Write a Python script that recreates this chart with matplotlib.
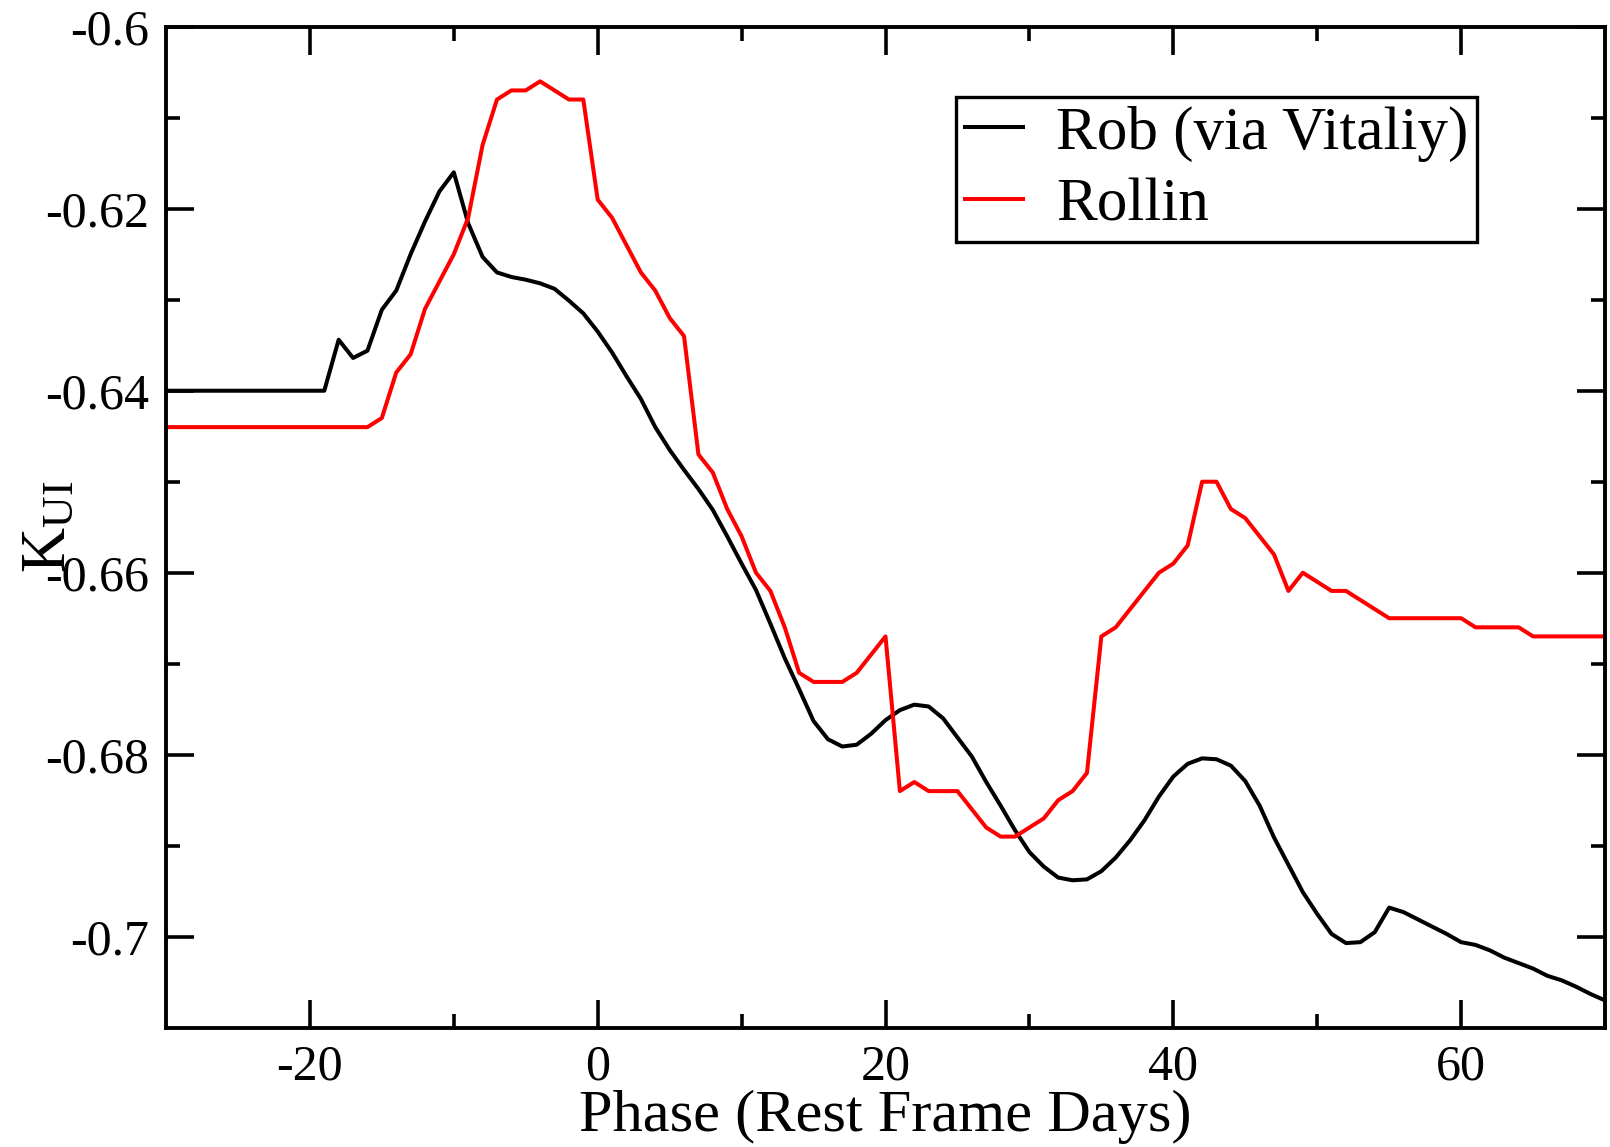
import matplotlib

matplotlib.use("Agg")
import matplotlib.pyplot as plt

# Rob (via Vitaliy)
rob_phase = [-30, -19, -18, -17, -16, -15, -14, -13, -12, -11, -10, -9, -8, -7, -6, -5,
             -4, -3, -2, -1, 0, 1, 2, 3, 4, 5, 6, 7, 8, 9, 10, 11, 12, 13, 14, 15, 16,
             17, 18, 19, 20, 21, 22, 23, 24, 25, 26, 27, 28, 29, 30, 31, 32, 33, 34,
             35, 36, 37, 38, 39, 40, 41, 42, 43, 44, 45, 46, 47, 48, 49, 50, 51, 52,
             53, 54, 55, 56, 57, 58, 59, 60, 61, 62, 63, 64, 65, 66, 67, 68, 69, 70]
rob_k = [-0.6400, -0.6400, -0.6344, -0.6364, -0.6356, -0.6311, -0.6290, -0.6250, -0.6214,
         -0.6181, -0.6160, -0.6216, -0.6253, -0.6270, -0.6275, -0.6278, -0.6282, -0.6288,
         -0.6301, -0.6315, -0.6335, -0.6358, -0.6384, -0.6409, -0.6440, -0.6465, -0.6487,
         -0.6508, -0.6531, -0.6560, -0.6590, -0.6619, -0.6656, -0.6694, -0.6728, -0.6763,
         -0.6783, -0.6791, -0.6789, -0.6777, -0.6762, -0.6751, -0.6745, -0.6747, -0.6760,
         -0.6781, -0.6802, -0.6830, -0.6856, -0.6883, -0.6907, -0.6923, -0.6935, -0.6938,
         -0.6937, -0.6928, -0.6913, -0.6894, -0.6872, -0.6846, -0.6824, -0.6810, -0.6804,
         -0.6805, -0.6812, -0.6829, -0.6856, -0.6891, -0.6921, -0.6951, -0.6975, -0.6997,
         -0.7007, -0.7006, -0.6995, -0.6968, -0.6973, -0.6981, -0.6989, -0.6997, -0.7006,
         -0.7009, -0.7015, -0.7023, -0.7029, -0.7035, -0.7043, -0.7048, -0.7055, -0.7063,
         -0.7070]

# Rollin
rollin_phase = [-30, -16, -15, -14, -13, -12, -11, -10, -9, -8, -7, -6, -5, -4, -3, -2, -1,
                0, 1, 2, 3, 4, 5, 6, 7, 8, 9, 10, 11, 12, 13, 14, 15, 16, 17, 18, 19, 20,
                21, 22, 23, 24, 25, 26, 27, 28, 29, 30, 31, 32, 33, 34, 35, 36, 37, 38,
                39, 40, 41, 42, 43, 44, 45, 46, 47, 48, 49, 50, 51, 52, 53, 54, 55, 60,
                61, 64, 65, 70]
rollin_k = [-0.644, -0.644, -0.643, -0.638, -0.636, -0.631, -0.628, -0.625, -0.621, -0.613,
            -0.608, -0.607, -0.607, -0.606, -0.607, -0.608, -0.608, -0.619, -0.621, -0.624,
            -0.627, -0.629, -0.632, -0.634, -0.647, -0.649, -0.653, -0.656, -0.660, -0.662,
            -0.666, -0.671, -0.672, -0.672, -0.672, -0.671, -0.669, -0.667, -0.684, -0.683,
            -0.684, -0.684, -0.684, -0.686, -0.688, -0.689, -0.689, -0.688, -0.687, -0.685,
            -0.684, -0.682, -0.667, -0.666, -0.664, -0.662, -0.660, -0.659, -0.657, -0.650,
            -0.650, -0.653, -0.654, -0.656, -0.658, -0.662, -0.660, -0.661, -0.662, -0.662,
            -0.663, -0.664, -0.665, -0.665, -0.666, -0.666, -0.667, -0.667]

x_major = [-20, 0, 20, 40, 60]
x_minor = [-10, 10, 30, 50]
y_major = [-0.70, -0.68, -0.66, -0.64, -0.62, -0.60]
y_minor = [-0.69, -0.67, -0.65, -0.63, -0.61]
y_labels = ["-0.7", "-0.68", "-0.66", "-0.64", "-0.62", "-0.6"]
x_labels = ["-20", "0", "20", "40", "60"]


def make_plot():
    plt.rcParams.update(
        {
            "font.family": "serif",
            "font.serif": ["Liberation Serif", "DejaVu Serif"],
            "mathtext.fontset": "custom",
            "mathtext.rm": "Liberation Serif",
            "mathtext.it": "Liberation Serif",
            "axes.unicode_minus": False,
            "axes.linewidth": 2.8,
        }
    )

    fig = plt.figure(figsize=(16.1, 11.47), dpi=100)
    ax = fig.add_axes([0.1031, 0.1040, 0.8938, 0.8727])

    ax.plot(rob_phase, rob_k, color="black", lw=2.9, label="Rob (via Vitaliy)")
    ax.plot(rollin_phase, rollin_k, color="#ff0000", lw=2.9, label="Rollin")

    ax.set_xlim(-30, 70)
    ax.set_ylim(-0.71, -0.60)
    ax.set_xticks(x_major)
    ax.set_xticks(x_minor, minor=True)
    ax.set_xticklabels(x_labels)
    ax.set_yticks(y_major)
    ax.set_yticks(y_minor, minor=True)
    ax.set_yticklabels(y_labels)

    ax.tick_params(which="both", direction="in", top=True, right=True, width=2.6)
    ax.tick_params(which="major", length=20, labelsize=36, pad=12)
    ax.tick_params(which="minor", length=10)

    ax.set_xlabel("Phase (Rest Frame Days)", fontsize=43.5, labelpad=-1)
    ax.set_ylabel(r"$\mathrm{K}_{\mathrm{UI}}$", fontsize=45)
    # label sits on top of the tick labels, as in the original
    ax.yaxis.set_label_coords(-0.060, 0.5)

    leg = ax.legend(
        loc="upper left",
        bbox_to_anchor=(956 / 1610, 1 - 97 / 1147),
        bbox_transform=fig.transFigure,
        fontsize=44,
        frameon=True,
        fancybox=False,
        edgecolor="black",
        framealpha=1,
        borderaxespad=0,
        borderpad=0.14,
        handlelength=0.95,
        handletextpad=0.55,
        labelspacing=0.26,
    )
    leg.get_frame().set_linewidth(2.4)

    fig.savefig("out.png", dpi=100)
    plt.close(fig)


if __name__ == "__main__":
    make_plot()
